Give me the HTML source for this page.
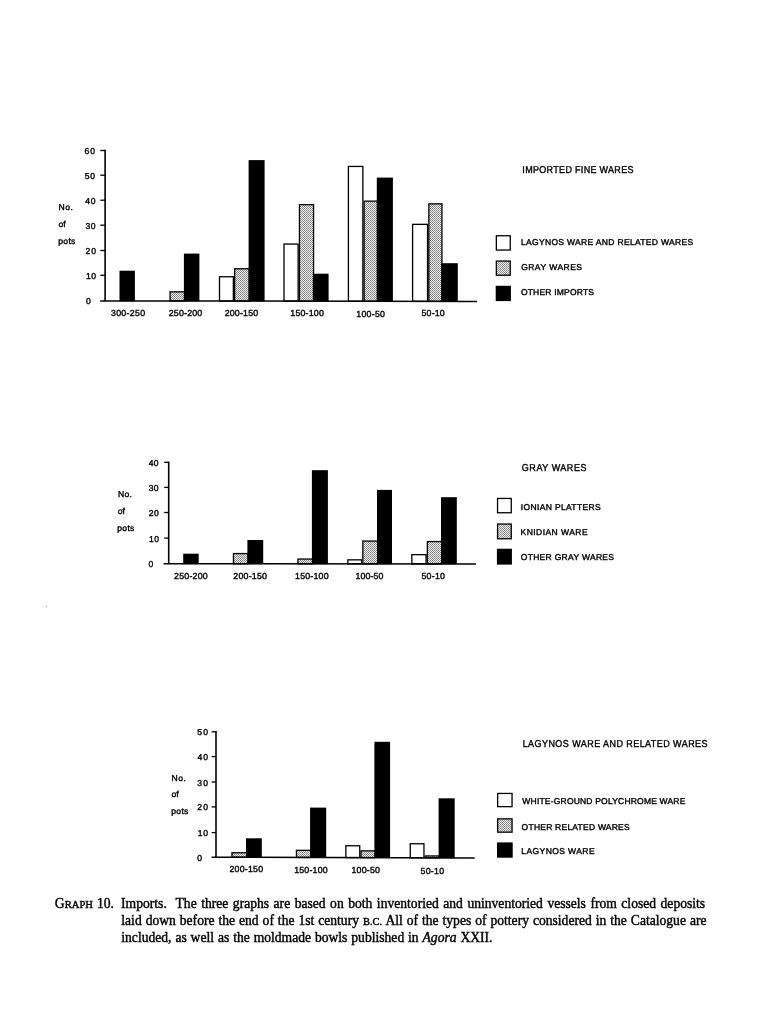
<!DOCTYPE html>
<html><head><meta charset="utf-8"><style>
html,body{margin:0;padding:0;background:#fff;}
body{filter:grayscale(1) blur(0.35px);}
body{width:760px;height:1024px;position:relative;overflow:hidden;}
svg{position:absolute;left:0;top:0;}
svg text{text-rendering:geometricPrecision;font-family:"Liberation Sans",sans-serif;fill:#000;stroke:#000;stroke-width:0.38px;}
.ln{position:absolute;white-space:nowrap;font-family:"Liberation Serif",serif;font-size:13.6px;line-height:16px;color:#000;-webkit-text-stroke:0.4px #000;}
.sc{font-size:10.5px;letter-spacing:0.1px;}
.sc2{font-size:10.5px;}
</style></head><body>
<svg width="760" height="1024" viewBox="0 0 760 1024">
<defs>
<pattern id="dots" width="2" height="2" patternUnits="userSpaceOnUse">
<rect width="2" height="2" fill="#f2f2f2"/>
<rect x="0" y="0" width="1" height="1" fill="#7e7e7e"/>
<rect x="1" y="1" width="1" height="1" fill="#8e8e8e"/>
</pattern>
</defs>
<rect x="219.50" y="276.75" width="13.85" height="24.32" fill="#fff" stroke="#000" stroke-width="1.3"/>
<rect x="284.00" y="244.05" width="14.15" height="57.10" fill="#fff" stroke="#000" stroke-width="1.3"/>
<rect x="348.40" y="166.45" width="14.45" height="134.79" fill="#fff" stroke="#000" stroke-width="1.3"/>
<rect x="412.60" y="224.35" width="14.95" height="76.97" fill="#fff" stroke="#000" stroke-width="1.3"/>
<rect x="170.05" y="291.85" width="14.50" height="9.15" fill="url(#dots)" stroke="#000" stroke-width="1.3"/>
<rect x="234.65" y="268.75" width="14.60" height="32.34" fill="url(#dots)" stroke="#000" stroke-width="1.3"/>
<rect x="299.45" y="204.65" width="14.10" height="96.52" fill="url(#dots)" stroke="#000" stroke-width="1.3"/>
<rect x="364.15" y="201.15" width="13.30" height="100.11" fill="url(#dots)" stroke="#000" stroke-width="1.3"/>
<rect x="428.85" y="203.85" width="13.10" height="97.49" fill="url(#dots)" stroke="#000" stroke-width="1.3"/>
<rect x="119.50" y="270.70" width="15.40" height="30.54" fill="#000"/>
<rect x="183.90" y="253.60" width="15.50" height="47.72" fill="#000"/>
<rect x="248.60" y="160.10" width="16.00" height="141.31" fill="#000"/>
<rect x="312.90" y="273.70" width="15.70" height="27.79" fill="#000"/>
<rect x="376.80" y="177.60" width="16.10" height="123.98" fill="#000"/>
<rect x="441.30" y="263.20" width="16.50" height="38.46" fill="#000"/>
<line x1="105.10" y1="149.80" x2="105.10" y2="300.90" stroke="#000" stroke-width="1.6"/>
<line x1="100.20" y1="300.90" x2="477.10" y2="301.40" stroke="#000" stroke-width="1.5"/>
<line x1="100.30" y1="275.30" x2="105.10" y2="275.30" stroke="#000" stroke-width="1.3"/>
<line x1="100.30" y1="250.50" x2="105.10" y2="250.50" stroke="#000" stroke-width="1.3"/>
<line x1="100.30" y1="225.20" x2="105.10" y2="225.20" stroke="#000" stroke-width="1.3"/>
<line x1="100.30" y1="200.20" x2="105.10" y2="200.20" stroke="#000" stroke-width="1.3"/>
<line x1="100.30" y1="175.20" x2="105.10" y2="175.20" stroke="#000" stroke-width="1.3"/>
<line x1="100.30" y1="150.50" x2="105.10" y2="150.50" stroke="#000" stroke-width="1.3"/>
<rect x="496.35" y="235.75" width="13.90" height="14.30" fill="#fff" stroke="#000" stroke-width="1.3"/>
<rect x="496.35" y="261.05" width="13.90" height="14.20" fill="url(#dots)" stroke="#000" stroke-width="1.3"/>
<rect x="496.35" y="286.45" width="13.90" height="14.00" fill="#000" stroke="#000" stroke-width="1.3"/>
<rect x="347.85" y="559.85" width="13.70" height="4.01" fill="#fff" stroke="#000" stroke-width="1.3"/>
<rect x="411.85" y="554.65" width="14.20" height="9.23" fill="#fff" stroke="#000" stroke-width="1.3"/>
<rect x="233.45" y="553.55" width="14.60" height="10.27" fill="url(#dots)" stroke="#000" stroke-width="1.3"/>
<rect x="297.95" y="559.05" width="14.60" height="4.80" fill="url(#dots)" stroke="#000" stroke-width="1.3"/>
<rect x="362.85" y="541.05" width="14.80" height="22.82" fill="url(#dots)" stroke="#000" stroke-width="1.3"/>
<rect x="427.35" y="541.55" width="14.30" height="22.34" fill="url(#dots)" stroke="#000" stroke-width="1.3"/>
<rect x="183.20" y="553.70" width="15.50" height="10.41" fill="#000"/>
<rect x="247.40" y="540.00" width="15.80" height="24.13" fill="#000"/>
<rect x="311.90" y="470.20" width="16.00" height="93.95" fill="#000"/>
<rect x="377.00" y="489.90" width="15.00" height="74.27" fill="#000"/>
<rect x="441.00" y="497.20" width="15.80" height="66.99" fill="#000"/>
<line x1="168.70" y1="461.60" x2="168.70" y2="563.80" stroke="#000" stroke-width="1.6"/>
<line x1="163.60" y1="563.80" x2="476.00" y2="563.90" stroke="#000" stroke-width="1.5"/>
<line x1="164.20" y1="538.10" x2="168.70" y2="538.10" stroke="#000" stroke-width="1.3"/>
<line x1="164.20" y1="512.50" x2="168.70" y2="512.50" stroke="#000" stroke-width="1.3"/>
<line x1="164.20" y1="487.40" x2="168.70" y2="487.40" stroke="#000" stroke-width="1.3"/>
<line x1="164.20" y1="462.30" x2="168.70" y2="462.30" stroke="#000" stroke-width="1.3"/>
<rect x="497.55" y="498.45" width="13.70" height="14.30" fill="#fff" stroke="#000" stroke-width="1.3"/>
<rect x="497.55" y="524.05" width="13.70" height="14.70" fill="url(#dots)" stroke="#000" stroke-width="1.3"/>
<rect x="497.55" y="549.40" width="13.70" height="14.55" fill="#000" stroke="#000" stroke-width="1.3"/>
<rect x="345.85" y="845.75" width="13.90" height="11.88" fill="#fff" stroke="#000" stroke-width="1.3"/>
<rect x="410.25" y="843.75" width="13.70" height="14.07" fill="#fff" stroke="#000" stroke-width="1.3"/>
<rect x="231.95" y="852.75" width="14.70" height="4.53" fill="url(#dots)" stroke="#000" stroke-width="1.3"/>
<rect x="296.45" y="850.35" width="14.30" height="7.13" fill="url(#dots)" stroke="#000" stroke-width="1.3"/>
<rect x="361.05" y="850.85" width="14.00" height="6.83" fill="url(#dots)" stroke="#000" stroke-width="1.3"/>
<rect x="425.25" y="855.95" width="14.00" height="1.92" fill="url(#dots)" stroke="#000" stroke-width="1.3"/>
<rect x="246.00" y="838.30" width="15.80" height="19.33" fill="#000"/>
<rect x="310.10" y="807.60" width="16.10" height="50.22" fill="#000"/>
<rect x="374.40" y="741.80" width="15.70" height="116.22" fill="#000"/>
<rect x="438.60" y="798.30" width="16.10" height="59.91" fill="#000"/>
<line x1="216.00" y1="731.10" x2="216.00" y2="857.20" stroke="#000" stroke-width="1.6"/>
<line x1="211.60" y1="857.20" x2="474.70" y2="858.00" stroke="#000" stroke-width="1.5"/>
<line x1="211.60" y1="832.60" x2="216.00" y2="832.60" stroke="#000" stroke-width="1.3"/>
<line x1="211.60" y1="806.90" x2="216.00" y2="806.90" stroke="#000" stroke-width="1.3"/>
<line x1="211.60" y1="782.00" x2="216.00" y2="782.00" stroke="#000" stroke-width="1.3"/>
<line x1="211.60" y1="756.60" x2="216.00" y2="756.60" stroke="#000" stroke-width="1.3"/>
<line x1="211.60" y1="731.80" x2="216.00" y2="731.80" stroke="#000" stroke-width="1.3"/>
<rect x="497.65" y="793.45" width="14.40" height="13.20" fill="#fff" stroke="#000" stroke-width="1.3"/>
<rect x="497.65" y="818.85" width="14.40" height="13.30" fill="url(#dots)" stroke="#000" stroke-width="1.3"/>
<rect x="497.65" y="843.05" width="14.40" height="14.00" fill="#000" stroke="#000" stroke-width="1.3"/>
<text x="85.96" y="304.20" font-size="8.6" textLength="5.67" lengthAdjust="spacing">0</text>
<text x="85.94" y="278.70" font-size="8.6" textLength="9.99" lengthAdjust="spacing">10</text>
<text x="85.47" y="253.90" font-size="8.6" textLength="10.47" lengthAdjust="spacing">20</text>
<text x="85.57" y="228.60" font-size="8.6" textLength="10.06" lengthAdjust="spacing">30</text>
<text x="85.30" y="203.60" font-size="8.6" textLength="10.23" lengthAdjust="spacing">40</text>
<text x="84.66" y="178.60" font-size="8.6" textLength="10.48" lengthAdjust="spacing">50</text>
<text x="84.56" y="153.90" font-size="8.6" textLength="10.57" lengthAdjust="spacing">60</text>
<text x="110.96" y="316.00" font-size="8.8" textLength="34.08" lengthAdjust="spacing">300-250</text>
<text x="168.76" y="316.00" font-size="8.8" textLength="33.49" lengthAdjust="spacing">250-200</text>
<text x="224.66" y="316.00" font-size="8.8" textLength="33.49" lengthAdjust="spacing">200-150</text>
<text x="290.33" y="315.90" font-size="8.8" textLength="33.51" lengthAdjust="spacing">150-100</text>
<text x="356.33" y="316.60" font-size="8.8" textLength="28.61" lengthAdjust="spacing">100-50</text>
<text x="421.55" y="316.30" font-size="8.8" textLength="23.10" lengthAdjust="spacing">50-10</text>
<text x="58.44" y="210.00" font-size="8.6" textLength="14.44" lengthAdjust="spacing">No.</text>
<text x="58.54" y="226.60" font-size="8.6">of</text>
<text x="58.35" y="243.50" font-size="8.6" textLength="16.97" lengthAdjust="spacing">pots</text>
<text x="580.41" y="173.00" font-size="10.0" textLength="123.49" lengthAdjust="spacing" transform="scale(0.9,1)">IMPORTED FINE WARES</text>
<text x="520.90" y="245.10" font-size="8.5" textLength="172.29" lengthAdjust="spacing">LAGYNOS WARE AND RELATED WARES</text>
<text x="521.17" y="269.70" font-size="8.5" textLength="60.82" lengthAdjust="spacing">GRAY WARES</text>
<text x="520.90" y="294.80" font-size="8.5" textLength="73.09" lengthAdjust="spacing">OTHER IMPORTS</text>
<text x="148.46" y="567.30" font-size="8.6" textLength="5.57" lengthAdjust="spacing">0</text>
<text x="148.94" y="541.60" font-size="8.6" textLength="9.99" lengthAdjust="spacing">10</text>
<text x="148.77" y="516.00" font-size="8.6" textLength="9.97" lengthAdjust="spacing">20</text>
<text x="148.67" y="490.90" font-size="8.6" textLength="9.96" lengthAdjust="spacing">30</text>
<text x="148.80" y="465.80" font-size="8.6" textLength="9.73" lengthAdjust="spacing">40</text>
<text x="174.06" y="579.20" font-size="8.8" textLength="33.69" lengthAdjust="spacing">250-200</text>
<text x="233.36" y="579.20" font-size="8.8" textLength="33.59" lengthAdjust="spacing">200-150</text>
<text x="295.03" y="579.20" font-size="8.8" textLength="33.51" lengthAdjust="spacing">150-100</text>
<text x="355.43" y="579.10" font-size="8.8" textLength="27.91" lengthAdjust="spacing">100-50</text>
<text x="421.45" y="579.20" font-size="8.8" textLength="23.50" lengthAdjust="spacing">50-10</text>
<text x="118.09" y="497.00" font-size="8.6" textLength="13.79" lengthAdjust="spacing">No.</text>
<text x="117.74" y="513.80" font-size="8.6">of</text>
<text x="117.35" y="530.70" font-size="8.6" textLength="16.97" lengthAdjust="spacing">pots</text>
<text x="579.83" y="470.50" font-size="10.0" textLength="71.74" lengthAdjust="spacing" transform="scale(0.9,1)">GRAY WARES</text>
<text x="520.82" y="509.50" font-size="8.5" textLength="79.77" lengthAdjust="spacing">IONIAN PLATTERS</text>
<text x="520.55" y="534.90" font-size="8.5" textLength="67.01" lengthAdjust="spacing">KNIDIAN WARE</text>
<text x="520.70" y="560.30" font-size="8.5" textLength="93.29" lengthAdjust="spacing">OTHER GRAY WARES</text>
<text x="197.36" y="860.80" font-size="8.6" textLength="5.67" lengthAdjust="spacing">0</text>
<text x="197.74" y="836.10" font-size="8.6" textLength="10.19" lengthAdjust="spacing">10</text>
<text x="197.27" y="810.40" font-size="8.6" textLength="10.67" lengthAdjust="spacing">20</text>
<text x="197.37" y="785.50" font-size="8.6" textLength="10.56" lengthAdjust="spacing">30</text>
<text x="197.50" y="760.10" font-size="8.6" textLength="10.43" lengthAdjust="spacing">40</text>
<text x="197.36" y="735.30" font-size="8.6" textLength="10.58" lengthAdjust="spacing">50</text>
<text x="229.46" y="872.20" font-size="8.8" textLength="33.59" lengthAdjust="spacing">200-150</text>
<text x="294.13" y="872.50" font-size="8.8" textLength="33.61" lengthAdjust="spacing">150-100</text>
<text x="351.43" y="873.00" font-size="8.8" textLength="28.51" lengthAdjust="spacing">100-50</text>
<text x="420.55" y="873.60" font-size="8.8" textLength="23.50" lengthAdjust="spacing">50-10</text>
<text x="171.59" y="780.70" font-size="8.6" textLength="14.19" lengthAdjust="spacing">No.</text>
<text x="171.54" y="797.30" font-size="8.6">of</text>
<text x="171.35" y="814.20" font-size="8.6" textLength="16.97" lengthAdjust="spacing">pots</text>
<text x="580.74" y="746.80" font-size="10.0" textLength="205.39" lengthAdjust="spacing" transform="scale(0.9,1)">LAGYNOS WARE AND RELATED WARES</text>
<text x="522.36" y="804.10" font-size="8.5" textLength="163.00" lengthAdjust="spacing">WHITE-GROUND POLYCHROME WARE</text>
<text x="521.60" y="829.50" font-size="8.5" textLength="108.09" lengthAdjust="spacing">OTHER RELATED WARES</text>
<text x="521.30" y="854.10" font-size="8.5" textLength="73.26" lengthAdjust="spacing">LAGYNOS WARE</text>
<circle cx="46.5" cy="606.6" r="0.8" fill="#bbb"/>
</svg>
<div class="ln" style="left:54.8px;top:895.91px">G<span class="sc">RAPH</span></div>
<div class="ln" style="left:96.9px;top:895.91px">10.</div>
<div class="ln" style="left:121.1px;top:895.91px;word-spacing:1.1px">Imports.&nbsp; The three graphs are based on both inventoried and uninventoried vessels from closed deposits</div>
<div class="ln" style="left:121.3px;top:912.71px;word-spacing:0.55px">laid down before the end of the 1st century <span class="sc2">B.C.</span> All of the types of pottery considered in the Catalogue are</div>
<div class="ln" style="left:121.3px;top:929.61px;word-spacing:0.5px">included, as well as the moldmade bowls published in <i>Agora</i> XXII.</div>
</body></html>
